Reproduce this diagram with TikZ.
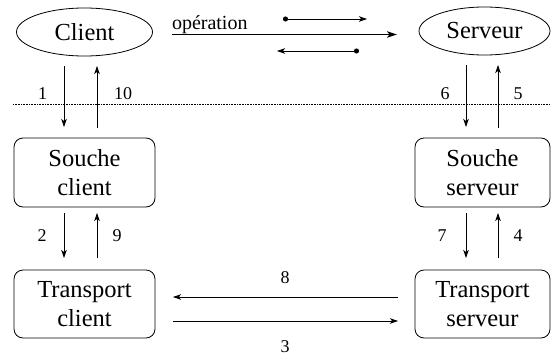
\documentclass[tikz,border=0pt]{standalone}
\usepackage{fontspec}
\setmainfont{Liberation Serif}
\usetikzlibrary{shapes.geometric,arrows.meta}
\begin{document}
\begin{tikzpicture}[x=1pt,y=1pt,
  every node/.style={inner sep=0pt,outer sep=0pt},
  bigtext/.style={font=\fontsize{24.5}{29}\selectfont,align=center},
  ell/.style={bigtext,draw,ellipse,line width=0.8pt},
  boxn/.style={bigtext,draw,rounded corners=9pt,line width=0.8pt},
  num/.style={font=\fontsize{18}{21}\selectfont},
  arr/.style={line width=0.8pt,-{Stealth[length=8pt,width=5.5pt,inset=2pt]}},
  dotarr/.style={line width=0.8pt,{Circle[length=5pt]}-{Stealth[length=8pt,width=5.5pt,inset=2pt]}},
]
\useasboundingbox (0,0) rectangle (551,-356);

\node[ell,minimum width=136pt,minimum height=48pt] (client) at (84.5,-32) {Client};
\node[ell,minimum width=131pt,minimum height=48pt] (serveur) at (484.5,-31) {Serveur};

\node[boxn,minimum width=141pt,minimum height=69pt] (sc) at (84.5,-172.5) {Souche\\client};
\node[boxn,minimum width=135pt,minimum height=69pt] (ss) at (482.5,-172.5) {Souche\\serveur};
\node[boxn,minimum width=141pt,minimum height=68pt] (tc) at (84.5,-304) {Transport\\client};
\node[boxn,minimum width=135pt,minimum height=68pt] (ts) at (482.5,-304) {Transport\\serveur};

% top operation arrow
\draw[line width=1.8pt,-{Stealth[length=10pt,width=6.5pt,inset=2.5pt]}]
  ([xshift=19pt,yshift=-2.5pt]client.east) -- ([xshift=-22pt,yshift=-3.5pt]serveur.west);
\node[anchor=base west,font=\fontsize{20}{23}\selectfont] (op) at (172,-29) {opération};

\coordinate (u1) at (283,-19);
\coordinate (u2) at (367,-19);
\coordinate (l1) at (359,-51);
\coordinate (l2) at (277,-51);
\draw[dotarr] (u1) -- (u2);
\draw[dotarr] (l1) -- (l2);

% dotted separator
\coordinate (d1) at (13,-104.3);
\coordinate (d2) at (551,-104.3);
\draw[line width=0.6pt,dash pattern=on 0.8pt off 0.8pt] (d1) -- (d2);

% client side vertical arrows
\draw[arr] ([xshift=-20.5pt,yshift=-10pt]client.south) -- ([xshift=-20.5pt,yshift=11pt]sc.north);
\draw[arr] ([xshift=12.5pt,yshift=10pt]sc.north) -- ([xshift=12.5pt,yshift=-10pt]client.south);
\node[num] (n1) at (42.7,-94) {1};
\node[num] (n10) at (123,-94) {10};

% server side vertical arrows
\draw[arr] ([xshift=-18.5pt,yshift=-10pt]serveur.south) -- ([xshift=-16.5pt,yshift=11pt]ss.north);
\draw[arr] ([xshift=15.5pt,yshift=10pt]ss.north) -- ([xshift=13.5pt,yshift=-10pt]serveur.south);
\node[num] (n6) at (445,-94) {6};
\node[num] (n5) at (518,-94) {5};

% second row
\draw[arr] ([xshift=-20.5pt,yshift=-6pt]sc.south) -- ([xshift=-20.5pt,yshift=12pt]tc.north);
\draw[arr] ([xshift=12.5pt,yshift=12pt]tc.north) -- ([xshift=12.5pt,yshift=-6pt]sc.south);
\node[num] (n2) at (42,-235.5) {2};
\node[num] (n9) at (117,-235.5) {9};

\draw[arr] ([xshift=-16.5pt,yshift=-6pt]ss.south) -- ([xshift=-16.5pt,yshift=12pt]ts.north);
\draw[arr] ([xshift=15.5pt,yshift=12pt]ts.north) -- ([xshift=15.5pt,yshift=-6pt]ss.south);
\node[num] (n7) at (442,-235.5) {7};
\node[num] (n4) at (518,-235.5) {4};

% horizontal transport arrows
\draw[arr] ([xshift=-17pt,yshift=7pt]ts.west) -- ([xshift=18pt,yshift=7pt]tc.east);
\draw[arr] ([xshift=18pt,yshift=-17pt]tc.east) -- ([xshift=-17pt,yshift=-17pt]ts.west);
\node[num] (n8) at (285,-278) {8};
\node[num] (n3) at (285,-347) {3};
\end{tikzpicture}
\end{document}
